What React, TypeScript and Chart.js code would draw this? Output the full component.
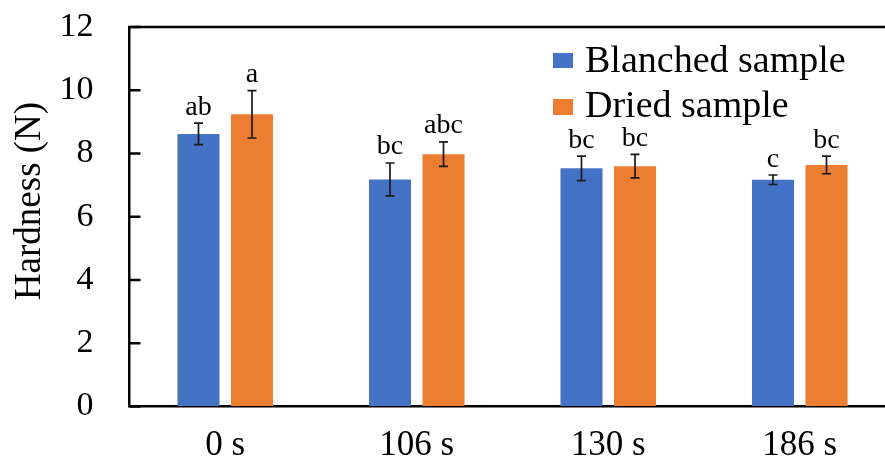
import React, { useEffect, useRef } from 'react';
import { Chart, registerables } from 'chart.js';

Chart.register(...registerables);

const categories = ['0 s', '106 s', '130 s', '186 s'];
const seriesNames = ['Blanched sample', 'Dried sample'];
const blanched = [8.62, 7.18, 7.53, 7.17];
const blanchedErr = [0.34, 0.52, 0.39, 0.15];
const dried = [9.24, 7.98, 7.6, 7.64];
const driedErr = [0.75, 0.39, 0.37, 0.28];
const blanchedLetters = ['ab', 'bc', 'bc', 'c'];
const driedLetters = ['a', 'abc', 'bc', 'bc'];
const yTickValues = [0, 2, 4, 6, 8, 10, 12];
const yTitle = 'Hardness (N)';

const BLUE = '#4472C4';
const ORANGE = '#ED7D31';
const FONT = "'Liberation Serif', 'Times New Roman', serif";

const errs = [blanchedErr, driedErr];
const letters = [blanchedLetters, driedLetters];

const overlayPlugin = {
  id: 'overlay',
  afterDraw(chart: any) {
    const { ctx, chartArea, scales } = chart;
    const y = scales.y;
    ctx.save();
    ctx.strokeStyle = '#000';
    ctx.lineWidth = 2.5;
    ctx.beginPath();
    ctx.moveTo(chartArea.left - 1.25, chartArea.top);
    ctx.lineTo(chartArea.right + 5, chartArea.top);
    ctx.stroke();
    yTickValues.forEach((v) => {
      const py = y.getPixelForValue(v);
      ctx.beginPath();
      ctx.moveTo(chartArea.left, py);
      ctx.lineTo(chartArea.left + 11, py);
      ctx.stroke();
    });
    chart.data.datasets.forEach((ds: any, i: number) => {
      const meta = chart.getDatasetMeta(i);
      meta.data.forEach((bar: any, j: number) => {
        const v = ds.data[j];
        const e = errs[i][j];
        const x = bar.x;
        const yt = y.getPixelForValue(v + e);
        const yb = y.getPixelForValue(v - e);
        ctx.strokeStyle = '#1a1a1a';
        ctx.lineWidth = 1.7;
        ctx.beginPath();
        ctx.moveTo(x, yt);
        ctx.lineTo(x, yb);
        ctx.moveTo(x - 4.5, yt);
        ctx.lineTo(x + 4.5, yt);
        ctx.moveTo(x - 4.5, yb);
        ctx.lineTo(x + 4.5, yb);
        ctx.stroke();
        ctx.fillStyle = '#000';
        ctx.font = `28px ${FONT}`;
        ctx.textAlign = 'center';
        ctx.textBaseline = 'alphabetic';
        ctx.fillText(letters[i][j], x, yt - 8.5);
      });
    });
    const legendY = [[53, 68, 71.7], [99, 115, 117.3]];
    chart.data.datasets.forEach((ds: any, i: number) => {
      const [t, b, base] = legendY[i];
      ctx.fillStyle = ds.backgroundColor;
      ctx.fillRect(553, t, 20, b - t);
      ctx.fillStyle = '#000';
      ctx.font = `38px ${FONT}`;
      ctx.textAlign = 'left';
      ctx.textBaseline = 'alphabetic';
      ctx.fillText(ds.label, 585, base);
    });
    ctx.translate(30, 201);
    ctx.rotate(-Math.PI / 2);
    ctx.fillStyle = '#000';
    ctx.font = `37px ${FONT}`;
    ctx.textAlign = 'center';
    ctx.textBaseline = 'middle';
    ctx.fillText(yTitle, 0, 0);
    ctx.restore();
  },
};

export default function App() {
  const ref = useRef<HTMLCanvasElement | null>(null);
  useEffect(() => {
    if (!ref.current) return;
    const chart = new Chart(ref.current, {
      type: 'bar',
      data: {
        labels: categories,
        datasets: [
          {
            label: seriesNames[0],
            data: blanched,
            backgroundColor: BLUE,
            categoryPercentage: 0.559,
            barPercentage: 0.785,
          },
          {
            label: seriesNames[1],
            data: dried,
            backgroundColor: ORANGE,
            categoryPercentage: 0.559,
            barPercentage: 0.785,
          },
        ],
      },
      options: {
        responsive: false,
        animation: false,
        devicePixelRatio: 1,
        layout: { padding: { top: 27, right: 1.5, left: 0, bottom: 0 } },
        plugins: { legend: { display: false }, tooltip: { enabled: false }, title: { display: false } },
        scales: {
          x: {
            grid: { display: true, drawOnChartArea: false, drawTicks: false },
            border: { display: true, color: '#000', width: 2.5 },
            ticks: { color: '#000', font: { family: FONT, size: 35 }, padding: 18 },
            afterFit: (s: any) => {
              s.height = 55.5;
              s.paddingLeft = 0;
              s.paddingRight = 0;
            },
          },
          y: {
            min: 0,
            max: 12,
            grid: { display: true, drawOnChartArea: false, drawTicks: false },
            border: { display: true, color: '#000', width: 2.5 },
            ticks: { stepSize: 2, color: '#000', font: { family: FONT, size: 34 }, padding: 36 },
            afterFit: (s: any) => {
              s.width = 129.5;
              s.paddingTop = 0;
              s.paddingBottom = 0;
            },
          },
        },
      },
      plugins: [overlayPlugin],
    });
    return () => chart.destroy();
  }, []);
  return (
    <div style={{ position: 'fixed', left: 0, top: 0, width: 885, height: 462, overflow: 'hidden', background: '#fff' }}>
      <canvas ref={ref} width={897} height={462} style={{ display: 'block' }} />
    </div>
  );
}
